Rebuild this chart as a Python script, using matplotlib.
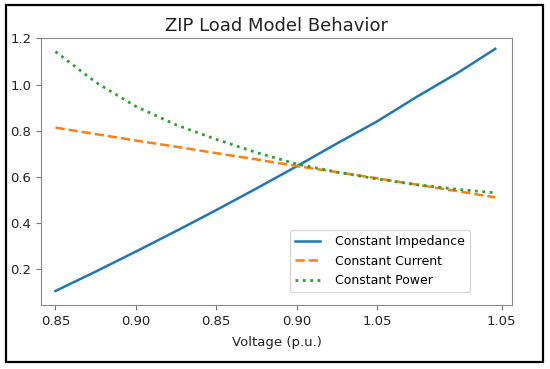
import numpy as np
import matplotlib as mpl
mpl.use('Agg')
import matplotlib.pyplot as plt
from matplotlib.patches import Rectangle

# voltage samples (tick 0.85 .. last data point)
voltage = [0.85, 0.875, 0.90, 0.925, 0.95, 0.975, 1.00, 1.025, 1.05, 1.075, 1.10, 1.1235]

const_impedance = [0.104, 0.188, 0.275, 0.364, 0.455, 0.549, 0.645, 0.744, 0.840, 0.948, 1.050, 1.155]
const_current = [0.813, 0.785, 0.757, 0.730, 0.702, 0.675, 0.646, 0.620, 0.593, 0.565, 0.537, 0.510]
const_power = [1.143, 1.010, 0.905, 0.825, 0.762, 0.705, 0.655, 0.620, 0.590, 0.565, 0.545, 0.530]

tick_pos = [0.85, 0.90, 0.95, 1.00, 1.05, 1.1275]
tick_labels = ['0.85', '0.90', '0.85', '0.90', '1.05', '1.05']

fig = plt.figure(figsize=(5.5, 3.69), dpi=100)
ax = fig.add_axes([41/550, 1-305/369, 471/550, 267/369])

ax.plot(voltage, const_impedance, '-', color='#1f77b4', lw=1.8, label='Constant Impedance')
ax.plot(voltage, const_current, '--', color='#ff7f0e', lw=1.8, label='Constant Current')
ax.plot(voltage, const_power, ':', color='#2ca02c', lw=2.0, label='Constant Power')

ax.set_xlim(0.841, 1.1339)
ax.set_ylim(0.043, 1.202)
ax.set_xticks(tick_pos)
ax.set_xticklabels(tick_labels)
ax.set_yticks([0.2, 0.4, 0.6, 0.8, 1.0, 1.2])
ax.tick_params(labelsize=9.5, color='#777777', labelcolor='#222222')
for s in ax.spines.values():
    s.set_color('#888888')

ax.set_xlabel('Voltage (p.u.)', fontsize=9.5, color='#222222', labelpad=6)
ax.set_title('ZIP Load Model Behavior', fontsize=13, pad=5, color='#222222')

ax.legend(loc='lower right', bbox_to_anchor=(0.911, 0.049), borderaxespad=0,
          fontsize=9, frameon=True, edgecolor='#cccccc', handletextpad=1.2)

# black frame round the figure
fig.patches.append(Rectangle((6/550, 1-362/369), 537/550, 357/369, transform=fig.transFigure,
                             fill=False, edgecolor='black', lw=1.6))

fig.savefig('out.png', dpi=100)
